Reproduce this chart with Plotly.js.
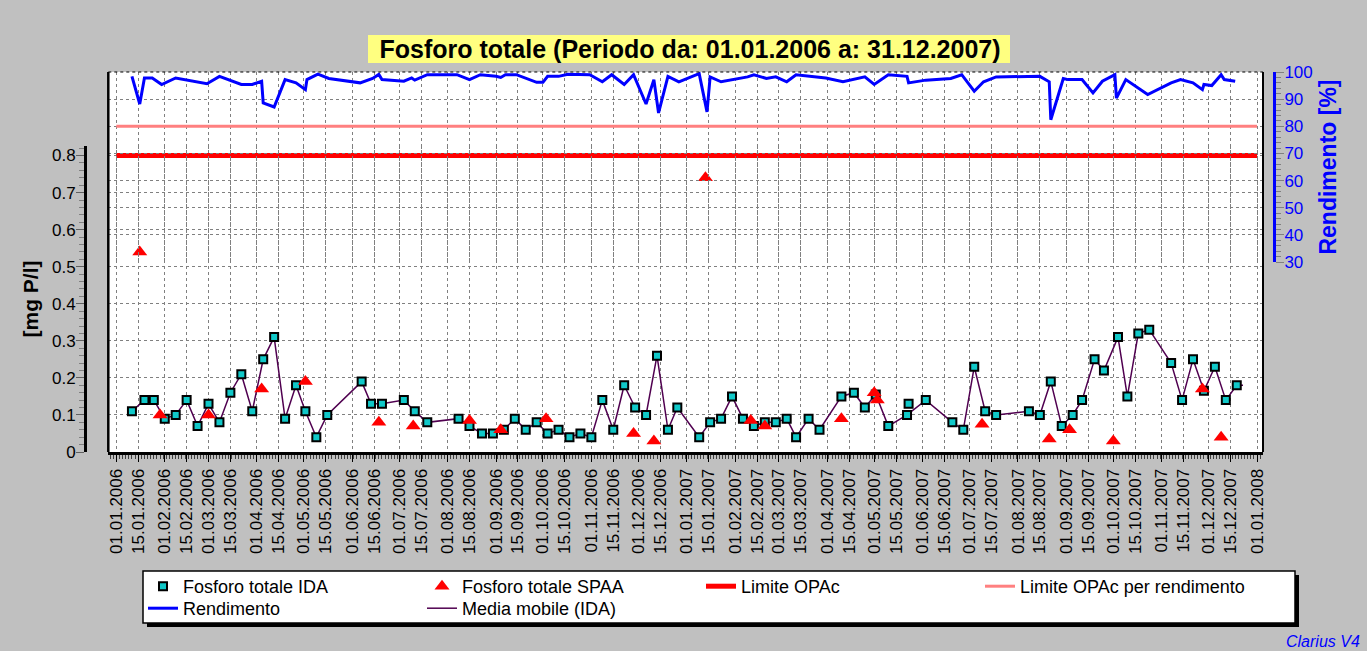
<!DOCTYPE html>
<html><head><meta charset="utf-8">
<script src="https://cdn.plot.ly/plotly-3.0.1.min.js"></script>
<style>html,body{margin:0;padding:0;background:#c0c0c0;} #chart{width:1367px;height:651px;}</style>
</head><body><div id="chart"></div>
<script>
// ---------------- DATA ----------------
const idaDates = ['2006-01-11','2006-01-19','2006-01-25','2006-02-01','2006-02-08','2006-02-15','2006-02-22','2006-03-01','2006-03-08','2006-03-15',
  '2006-03-22','2006-03-29','2006-04-05','2006-04-12','2006-04-19','2006-04-26','2006-05-02','2006-05-09','2006-05-16','2006-06-07',
  '2006-06-13','2006-06-20','2006-07-04','2006-07-11','2006-07-19','2006-08-08','2006-08-15','2006-08-23','2006-08-30','2006-09-06',
  '2006-09-13','2006-09-20','2006-09-27','2006-10-04','2006-10-11','2006-10-18','2006-10-25','2006-11-01','2006-11-08','2006-11-15',
  '2006-11-22','2006-11-29','2006-12-06','2006-12-13','2006-12-20','2006-12-26','2007-01-09','2007-01-16','2007-01-23','2007-01-30',
  '2007-02-06','2007-02-13','2007-02-20','2007-02-27','2007-03-06','2007-03-12','2007-03-20','2007-03-27','2007-04-10','2007-04-18',
  '2007-04-25','2007-05-02','2007-05-10','2007-05-22','2007-05-23','2007-06-03','2007-06-20','2007-06-27','2007-07-04','2007-07-11',
  '2007-07-18','2007-08-08','2007-08-15','2007-08-22','2007-08-29','2007-09-05','2007-09-11','2007-09-19','2007-09-25','2007-10-04',
  '2007-10-10','2007-10-17','2007-10-24','2007-11-07','2007-11-14','2007-11-21','2007-11-28','2007-12-05','2007-12-12','2007-12-19'];
const idaValues = [0.11,0.14,0.14,0.09,0.10,0.14,0.07,0.13,0.08,0.16,
  0.21,0.11,0.25,0.31,0.09,0.18,0.11,0.04,0.10,0.19,
  0.13,0.13,0.14,0.11,0.08,0.09,0.07,0.05,0.05,0.06,
  0.09,0.06,0.08,0.05,0.06,0.04,0.05,0.04,0.14,0.06,
  0.18,0.12,0.10,0.26,0.06,0.12,0.04,0.08,0.09,0.15,
  0.09,0.07,0.08,0.08,0.09,0.04,0.09,0.06,0.15,0.16,
  0.12,0.155,0.07,0.10,0.13,0.14,0.08,0.06,0.23,0.11,
  0.10,0.11,0.10,0.19,0.07,0.10,0.14,0.25,0.22,0.31,
  0.15,0.32,0.33,0.24,0.14,0.25,0.165,0.23,0.14,0.18];

const mediaDates = ['2006-01-11','2006-01-19','2006-01-25','2006-02-01','2006-02-08','2006-02-15','2006-02-22','2006-03-01','2006-03-08','2006-03-15',
  '2006-03-22','2006-03-29','2006-04-05','2006-04-12','2006-04-19','2006-04-26','2006-05-02','2006-05-09','2006-05-16','2006-06-07',
  '2006-06-13','2006-06-20','2006-07-04','2006-07-11','2006-07-19','2006-08-08','2006-08-15','2006-08-23','2006-08-30','2006-09-06',
  '2006-09-13','2006-09-20','2006-09-27','2006-10-04','2006-10-11','2006-10-18','2006-10-25','2006-11-01','2006-11-08','2006-11-15',
  '2006-11-22','2006-11-29','2006-12-06','2006-12-13','2006-12-20','2006-12-26','2007-01-09','2007-01-16','2007-01-23','2007-01-30',
  '2007-02-06','2007-02-13','2007-02-20','2007-02-27','2007-03-06','2007-03-12','2007-03-20','2007-03-27','2007-04-10','2007-04-18',
  '2007-04-25','2007-05-02','2007-05-10','2007-05-22','2007-06-03','2007-06-20','2007-06-27','2007-07-04','2007-07-11',
  '2007-07-18','2007-08-08','2007-08-15','2007-08-22','2007-08-29','2007-09-05','2007-09-11','2007-09-19','2007-09-25','2007-10-04',
  '2007-10-10','2007-10-17','2007-10-24','2007-11-07','2007-11-14','2007-11-21','2007-11-28','2007-12-05','2007-12-12','2007-12-19','2007-12-23'];
const mediaValues = [0.11,0.14,0.14,0.09,0.10,0.14,0.07,0.13,0.08,0.16,
  0.21,0.11,0.25,0.31,0.09,0.18,0.11,0.04,0.10,0.19,
  0.13,0.13,0.14,0.11,0.08,0.09,0.07,0.05,0.05,0.06,
  0.09,0.06,0.08,0.05,0.06,0.04,0.05,0.04,0.14,0.06,
  0.18,0.12,0.10,0.26,0.06,0.12,0.04,0.08,0.09,0.15,
  0.09,0.07,0.08,0.08,0.09,0.04,0.09,0.06,0.15,0.16,
  0.12,0.155,0.07,0.10,0.14,0.08,0.06,0.23,0.11,
  0.10,0.11,0.10,0.19,0.07,0.10,0.14,0.25,0.22,0.31,
  0.15,0.32,0.33,0.24,0.14,0.25,0.165,0.23,0.14,0.18,0.18];

const spaaDates = ['2006-01-16','2006-01-29','2006-03-01','2006-04-04','2006-05-02','2006-06-18','2006-07-10','2006-08-15','2006-09-04','2006-10-03',
  '2006-11-28','2006-12-11','2007-01-13','2007-02-11','2007-02-20','2007-04-10','2007-05-01','2007-05-03','2007-07-09','2007-08-21',
  '2007-09-03','2007-10-01','2007-11-27','2007-12-09'];
const spaaValues = [0.54,0.10,0.10,0.17,0.19,0.08,0.07,0.085,0.06,0.09,
  0.05,0.03,0.74,0.085,0.07,0.09,0.16,0.14,0.075,0.035,
  0.06,0.03,0.17,0.04];

const rendDates = ['2006-01-11','2006-01-16','2006-01-19','2006-01-24','2006-01-30','2006-02-08','2006-02-28','2006-03-08','2006-03-22','2006-03-29',
  '2006-04-04','2006-04-05','2006-04-12','2006-04-19','2006-04-26','2006-05-02','2006-05-03','2006-05-10','2006-05-17','2006-06-06',
  '2006-06-14','2006-06-18','2006-06-20','2006-07-04','2006-07-09','2006-07-11','2006-07-19','2006-08-07','2006-08-15','2006-08-22',
  '2006-09-01','2006-09-04','2006-09-07','2006-09-14','2006-09-27','2006-10-01','2006-10-04','2006-10-11','2006-10-17','2006-10-31',
  '2006-11-08','2006-11-14','2006-11-22','2006-11-28','2006-12-06','2006-12-11','2006-12-14','2006-12-20','2006-12-27','2007-01-09',
  '2007-01-14','2007-01-16','2007-01-23','2007-02-09','2007-02-13','2007-02-21','2007-02-27','2007-03-06','2007-03-12','2007-03-23',
  '2007-03-31','2007-04-11','2007-04-25','2007-05-01','2007-05-10','2007-05-22','2007-05-23','2007-06-03','2007-06-19','2007-06-26',
  '2007-07-04','2007-07-10','2007-07-18','2007-08-15','2007-08-21','2007-08-22','2007-08-30','2007-09-02','2007-09-11','2007-09-18',
  '2007-09-24','2007-10-02','2007-10-03','2007-10-09','2007-10-23','2007-11-07','2007-11-13','2007-11-21','2007-11-27','2007-11-28',
  '2007-12-03','2007-12-09','2007-12-11','2007-12-18'];
const rendValues = [98.4,88.2,97.8,97.8,95.4,97.8,95.7,98.4,95.4,95.4,
  96.6,88.6,87.1,97.2,96.0,93.5,97.2,99.2,97.6,96.0,
  97.6,99.1,97.2,96.6,97.8,97.0,99.0,99.0,97.2,99.0,
  98.4,98.0,99.0,99.0,96.2,96.2,98.4,98.4,99.2,99.0,
  96.4,99.0,95.4,99.0,88.2,97.2,84.9,98.4,96.4,99.4,
  85.3,98.2,96.4,98.2,99.0,97.6,98.2,96.4,99.0,98.2,
  97.8,96.4,98.2,95.4,99.0,98.4,96.0,97.0,97.6,99.0,
  92.9,96.4,98.2,98.4,96.4,82.4,97.6,97.2,97.2,92.3,
  96.6,99.0,90.4,97.2,91.7,96.0,97.2,96.0,93.5,95.4,
  95.0,99.0,97.2,96.6];

const limitDates = ['2006-01-01','2008-01-01'];
const limiteOPAc = [0.8, 0.8];
const limiteRendimento = [80, 80];

const tickDates = ['2006-01-01','2006-01-15','2006-02-01','2006-02-15','2006-03-01','2006-03-15','2006-04-01','2006-04-15',
  '2006-05-01','2006-05-15','2006-06-01','2006-06-15','2006-07-01','2006-07-15','2006-08-01','2006-08-15',
  '2006-09-01','2006-09-15','2006-10-01','2006-10-15','2006-11-01','2006-11-15','2006-12-01','2006-12-15',
  '2007-01-01','2007-01-15','2007-02-01','2007-02-15','2007-03-01','2007-03-15','2007-04-01','2007-04-15',
  '2007-05-01','2007-05-15','2007-06-01','2007-06-15','2007-07-01','2007-07-15','2007-08-01','2007-08-15',
  '2007-09-01','2007-09-15','2007-10-01','2007-10-15','2007-11-01','2007-11-15','2007-12-01','2007-12-15','2008-01-01'];

// ---------------- LAYOUT HELPERS (pixel -> paper) ----------------
const ML = 85, MR = 93, MT = 72, MB = 199, W = 1367, H = 651;
const PW = W - ML - MR, PH = H - MT - MB;
const px = x => (x - ML) / PW;
const py = y => (H - MB - y) / PH;
const F = 'Liberation Sans, Arial, Helvetica, sans-serif';

const traces = [
  {name:'Limite OPAc', x:limitDates, y:limiteOPAc, xaxis:'x', yaxis:'y', mode:'lines',
   line:{color:'#ff0000', width:5}, legend:'legend', legendrank:3, hoverinfo:'skip'},
  {name:'Limite OPAc per rendimento', x:limitDates, y:limiteRendimento, xaxis:'x', yaxis:'y2', mode:'lines',
   line:{color:'#ff8080', width:3}, legend:'legend', legendrank:4, hoverinfo:'skip'},
  {name:'Rendimento', x:rendDates, y:rendValues, xaxis:'x', yaxis:'y2', mode:'lines',
   line:{color:'#0000ff', width:3}, legend:'legend2', legendrank:5},
  {name:'Media mobile (IDA)', x:mediaDates, y:mediaValues, xaxis:'x', yaxis:'y', mode:'lines',
   line:{color:'#500050', width:1.5}, legend:'legend2', legendrank:6},
  {name:'Fosforo totale IDA', x:idaDates, y:idaValues, xaxis:'x', yaxis:'y', mode:'markers',
   marker:{symbol:'square', size:8, color:'#10c8c8', line:{color:'#000', width:2}}, legend:'legend', legendrank:1},
  {name:'Fosforo totale SPAA', x:spaaDates, y:spaaValues, xaxis:'x', yaxis:'y', mode:'markers',
   marker:{symbol:'triangle-up', size:13, color:'#ff0000', line:{width:0}}, legend:'legend', legendrank:2}
];

const legendBase = {orientation:'h', xanchor:'left', yanchor:'top', bgcolor:'rgba(0,0,0,0)',
  borderwidth:0, font:{family:F, size:18, color:'#000'}, entrywidth:234, traceorder:'normal', tracegroupgap:0};

const layout = {
  width:W, height:H,
  margin:{l:ML, r:MR, t:MT, b:MB, pad:0},
  paper_bgcolor:'#c0c0c0', plot_bgcolor:'rgba(0,0,0,0)',
  font:{family:F, color:'#000'},
  title:{text:'<b>Fosforo totale (Periodo da: 01.01.2006 a: 31.12.2007)</b>', font:{family:F, size:25, color:'#000'},
    xref:'container', yref:'container', x:690/W, xanchor:'center', y:1-49/H, yanchor:'middle'},
  showlegend:true,
  legend:Object.assign({}, legendBase, {x:px(143), y:py(568)}),
  legend2:Object.assign({}, legendBase, {x:px(143), y:py(590)}),
  xaxis:{type:'date', domain:[px(108.3), px(1263)], range:['2005-12-26 21:00','2008-01-04 19:00'], anchor:'y',
    tickmode:'array', tickvals:tickDates, tickformat:'%d.%m.%Y', tickangle:-90,
    tickfont:{family:F, size:17, color:'#000'}, ticks:'outside', ticklen:7, tickwidth:1, tickcolor:'#000',
    showline:true, linecolor:'#000', linewidth:3, showgrid:true, gridcolor:'#808080', griddash:'dot', gridwidth:1,
    zeroline:false, fixedrange:true,
    minor:{dtick:2*86400000, ticks:'outside', ticklen:4, tickcolor:'#404040', tickwidth:1, showgrid:false}},
  yaxis:{domain:[0, py(146)], range:[0, 0.8257], anchor:'free', position:0, side:'left',
    tickmode:'linear', tick0:0, dtick:0.1, ticks:'outside', ticklen:8, tickcolor:'#606060', tickwidth:1,
    ticklabelstandoff:-3,
    tickfont:{family:F, size:17, color:'#000'},
    showline:true, linecolor:'#000', linewidth:3, showgrid:true, gridcolor:'#808080', griddash:'dot', gridwidth:1,
    zeroline:false, fixedrange:true,
    minor:{dtick:0.02, ticks:'outside', ticklen:5, tickcolor:'#808080', showgrid:false},
    title:{text:'<b>[mg P/l]</b>', font:{family:F, size:21, color:'#000'}, standoff:6}},
  yaxis2:{domain:[py(262), 1], range:[30, 100], anchor:'free', position:1, side:'right',
    tickmode:'linear', tick0:30, dtick:10, ticks:'outside', ticklen:8, tickcolor:'#808080', tickwidth:1,
    ticklabelstandoff:-3,
    tickfont:{family:F, size:17, color:'#0000ff'},
    showline:true, linecolor:'#0000ff', linewidth:3, showgrid:true, gridcolor:'#808080', griddash:'dot', gridwidth:1,
    zeroline:false, fixedrange:true,
    minor:{dtick:2, ticks:'outside', ticklen:5, tickcolor:'#808080', showgrid:false},
    title:{text:'<b>Rendimento [%]</b>', font:{family:F, size:23, color:'#0000ff'}, standoff:8}},
  shapes:[
    {type:'rect', xref:'paper', yref:'paper', x0:px(108.3), x1:px(1263), y0:0, y1:1, fillcolor:'#ffffff', line:{width:0}, layer:'below'},
    {type:'line', xref:'paper', yref:'paper', x0:px(108.3), x1:px(108.3), y0:0, y1:1, line:{color:'#000', width:2.5}, layer:'above'},
    {type:'line', xref:'paper', yref:'paper', x0:px(1263), x1:px(1263), y0:0, y1:1, line:{color:'#000', width:2}, layer:'above'},
    {type:'line', xref:'paper', yref:'paper', x0:px(108.3), x1:px(1263), y0:1, y1:1, line:{color:'#000', width:1, dash:'dot'}, layer:'above'},
    {type:'rect', xref:'paper', yref:'paper', x0:px(368), x1:px(1010), y0:py(63), y1:py(35), fillcolor:'#ffff80', line:{width:0}, layer:'below'},
    {type:'rect', xref:'paper', yref:'paper', x0:px(147), x1:px(1299), y0:py(627), y1:py(575), fillcolor:'#000000', line:{width:0}, layer:'below'},
    {type:'rect', xref:'paper', yref:'paper', x0:px(143), x1:px(1295), y0:py(623), y1:py(571), fillcolor:'#ffffff', line:{color:'#000', width:1.5}, layer:'below'}
  ],
  annotations:[
    {text:'<i>Clarius V4</i>', xref:'paper', yref:'paper', x:px(1284), y:py(641), xanchor:'left', yanchor:'middle',
     showarrow:false, font:{family:F, size:16, color:'#0000ff'}}
  ]
};

Plotly.newPlot('chart', traces, layout, {displayModeBar:false, staticPlot:true});
</script></body></html>
